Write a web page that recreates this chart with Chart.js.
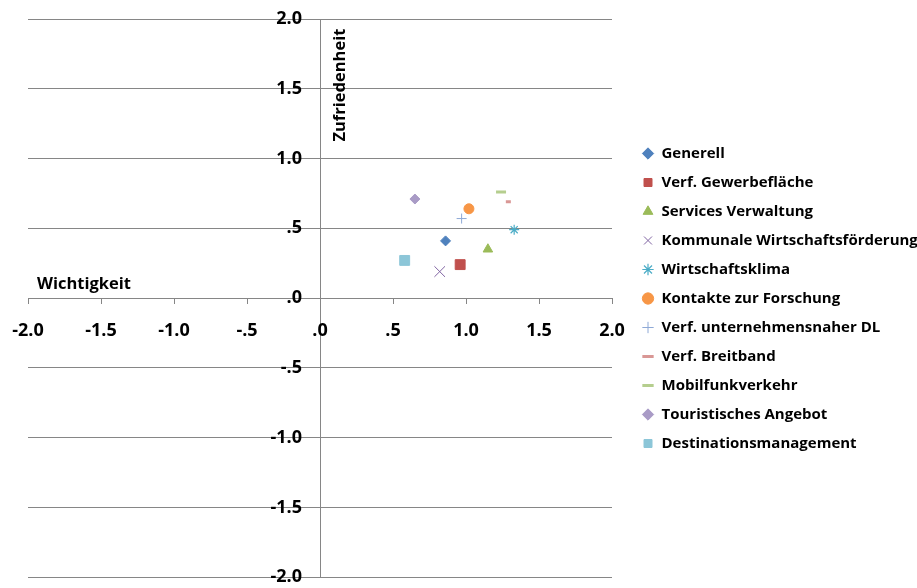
<!DOCTYPE html>
<html>
<head>
<meta charset="utf-8">
<script src="https://cdn.jsdelivr.net/npm/chart.js@4"></script>
<style>
  html, body { margin: 0; padding: 0; background: #fff; }
  #wrap { width: 917px; height: 588px; }
</style>
</head>
<body>
<div id="wrap"><canvas id="matrix" width="917" height="588"></canvas></div>
<script>
// Series names as shown in the legend
const seriesNames = [
  "Generell",
  "Verf. Gewerbefläche",
  "Services Verwaltung",
  "Kommunale Wirtschaftsförderung",
  "Wirtschaftsklima",
  "Kontakte zur Forschung",
  "Verf. unternehmensnaher DL",
  "Verf. Breitband",
  "Mobilfunkverkehr",
  "Touristisches Angebot",
  "Destinationsmanagement"
];

// Wichtigkeit (x) and Zufriedenheit (y)
const wichtigkeit = [0.86, 0.96, 1.15, 0.82, 1.33, 1.02, 0.97, 1.29, 1.24, 0.65, 0.58];
const zufriedenheit = [0.41, 0.24, 0.35, 0.19, 0.49, 0.64, 0.57, 0.69, 0.76, 0.71, 0.27];

// axis ticks
const tickValues = [-2, -1.5, -1, -0.5, 0, 0.5, 1, 1.5, 2];
const tickLabels = ["-2.0", "-1.5", "-1.0", "-.5", ".0", ".5", "1.0", "1.5", "2.0"];

// marker look per series
const markerColors = ["#4F81BD", "#C0504D", "#9BBB59", "#8064A2", "#4BACC6", "#F79646",
                      "#8EA9D6", "#D99795", "#B5CE8E", "#A99BC6", "#8CC6D8"];
const markerStyles = ["rectRot", "rect", "triangle", "crossRot", "star", "circle",
                      "cross", "line", "line", "rectRot", "rect"];
const markerRadius = [5, 7, 5.5, 7.5, 5, 5, 5, 2.5, 5, 5, 7];
const markerBorder = [1, 1, 1, 1, 1.2, 1, 1, 3, 3, 1, 1];

const FONT = "'Open Sans', 'DejaVu Sans', sans-serif";
const GRID = "#868686";

function tickText(value) {
  const i = tickValues.findIndex(v => Math.abs(v - value) < 1e-9);
  return i >= 0 ? tickLabels[i] : "";
}

const datasets = seriesNames.map((name, i) => ({
  label: name,
  data: [{ x: wichtigkeit[i], y: zufriedenheit[i] }],
  pointStyle: markerStyles[i],
  pointRadius: markerRadius[i],
  pointHoverRadius: markerRadius[i],
  backgroundColor: markerColors[i],
  borderColor: markerColors[i],
  borderWidth: markerBorder[i],
  showLine: false
}));

// axis captions that sit inside the plot, next to the axes
const axisCaptions = {
  id: "axisCaptions",
  afterDraw(chart) {
    const { ctx, scales } = chart;
    const x = scales.x, y = scales.y;
    ctx.save();
    ctx.fillStyle = "#000";
    ctx.font = "bold 16.5px " + FONT;
    ctx.textAlign = "left";
    ctx.textBaseline = "alphabetic";
    ctx.fillText("Wichtigkeit", x.getPixelForValue(-2) + 9, y.getPixelForValue(0) - 9);

    ctx.translate(x.getPixelForValue(0) + 25, y.getPixelForValue(1) - 17);
    ctx.rotate(-Math.PI / 2);
    ctx.fillText("Zufriedenheit", 0, 0);
    ctx.restore();
  }
};

new Chart(document.getElementById("matrix"), {
  type: "scatter",
  data: { datasets },
  plugins: [axisCaptions],
  options: {
    responsive: false,
    animation: false,
    layout: { padding: { left: 28, top: 19, bottom: 10, right: 0 } },
    plugins: {
      tooltip: { enabled: false },
      legend: {
        position: "right",
        maxWidth: 289,
        labels: {
          usePointStyle: true,
          boxWidth: 12,
          boxHeight: 8,
          padding: 14,
          color: "#000",
          font: { family: FONT, size: 15, weight: "bold" }
        }
      }
    },
    scales: {
      x: {
        type: "linear",
        position: { y: 0 },
        min: -2, max: 2,
        afterBuildTicks: s => { s.ticks = tickValues.map(v => ({ value: v })); },
        afterFit: s => { s.paddingLeft = 0; s.paddingRight = 0; },
        // only the zero line is drawn across the plot: it is the vertical axis
        grid: {
          drawOnChartArea: true,
          color: c => (c.tick && c.tick.value === 0 ? GRID : "rgba(0,0,0,0)"),
          tickColor: GRID,
          drawTicks: true,
          tickLength: 5
        },
        border: { display: true, color: GRID, width: 1 },
        ticks: {
          callback: v => tickText(v),
          padding: 17,
          maxRotation: 0,
          color: "#000",
          font: { family: FONT, size: 18, weight: "bold" }
        }
      },
      y: {
        type: "linear",
        // labels sit a little left of the vertical axis line
        position: { x: -0.123 },
        min: -2, max: 2,
        afterBuildTicks: s => { s.ticks = tickValues.map(v => ({ value: v })); },
        grid: { drawTicks: false, tickLength: 0, color: GRID },
        border: { display: false },
        ticks: {
          callback: v => tickText(v),
          padding: 0,
          color: "#000",
          font: { family: FONT, size: 18, weight: "bold" }
        }
      },
      gap: {
        type: "linear",
        position: "right",
        display: true,
        grid: { display: false, drawTicks: false },
        border: { display: false },
        ticks: { display: false },
        afterFit: s => { s.width = 16; }
      }
    }
  }
});
</script>
</body>
</html>
